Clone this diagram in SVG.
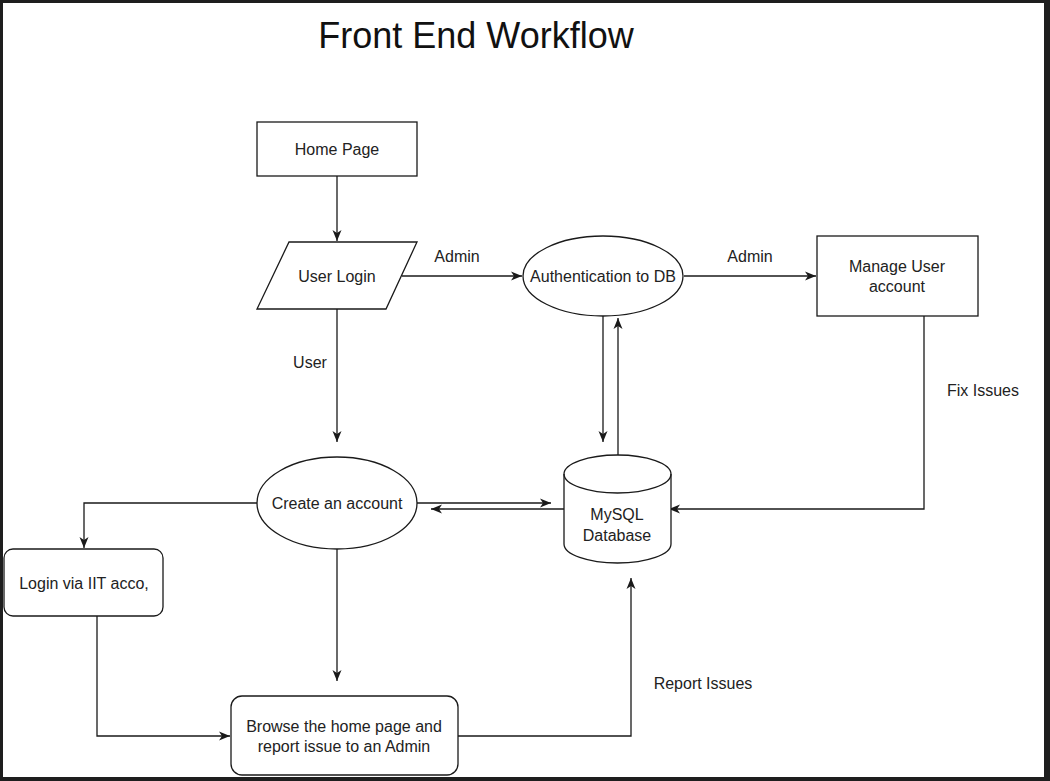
<svg xmlns="http://www.w3.org/2000/svg" width="1050" height="781" viewBox="0 0 1050 781">
<style>
  .shape { fill: #ffffff; stroke: #1a1a1a; stroke-width: 1.3; }
  .edge { fill: none; stroke: #1a1a1a; stroke-width: 1.3; }
  .lbl { font-family: "Liberation Sans", Arial, sans-serif; font-size: 16px; fill: #222222; text-anchor: middle; }
  .title { font-family: "Liberation Sans", Arial, sans-serif; font-size: 36px; fill: #111111; text-anchor: middle; }
</style>
<defs>
  <marker id="arr" markerUnits="userSpaceOnUse" markerWidth="12" markerHeight="10" refX="11" refY="5" orient="auto">
    <path d="M0,0.5 L11,5 L0,9.5 L3,5 Z" fill="#1a1a1a"/>
  </marker>
</defs>
<rect x="0" y="0" width="1050" height="781" fill="#1e1e1e"/>
<rect x="3" y="3" width="1041" height="774" fill="#ffffff"/>
<text class="title" x="476" y="48">Front End Workflow</text>

<g id="connectors">
  <path class="edge" d="M337,176 L337,241" marker-end="url(#arr)"/>
  <path class="edge" d="M402,276 L522,276" marker-end="url(#arr)"/>
  <text class="lbl" x="457" y="262">Admin</text>
  <path class="edge" d="M684,276 L816,276" marker-end="url(#arr)"/>
  <text class="lbl" x="750" y="262">Admin</text>
  <path class="edge" d="M337,309 L337,442" marker-end="url(#arr)"/>
  <text class="lbl" x="310" y="368">User</text>
  <path class="edge" d="M603,316 L603,442" marker-end="url(#arr)"/>
  <path class="edge" d="M618,456 L618,318" marker-end="url(#arr)"/>
  <path class="edge" d="M924,316 L924,509 L669,509" marker-end="url(#arr)"/>
  <text class="lbl" x="983" y="396">Fix Issues</text>
  <path class="edge" d="M417,503 L551,503" marker-end="url(#arr)"/>
  <path class="edge" d="M564,509 L431,509" marker-end="url(#arr)"/>
  <path class="edge" d="M257,503 L84,503 L84,548" marker-end="url(#arr)"/>
  <path class="edge" d="M97,616 L97,736 L230,736" marker-end="url(#arr)"/>
  <path class="edge" d="M337,549 L337,681" marker-end="url(#arr)"/>
  <path class="edge" d="M458,736 L631,736 L631,578" marker-end="url(#arr)"/>
  <text class="lbl" x="703" y="689">Report Issues</text>
</g>

<g id="home-page">
  <rect class="shape" x="257" y="122" width="160" height="54"/>
  <text class="lbl" x="337" y="155">Home Page</text>
</g>
<g id="user-login">
  <polygon class="shape" points="289,242 417,242 386,309 257,309"/>
  <text class="lbl" x="337" y="282">User Login</text>
</g>
<g id="authentication">
  <ellipse class="shape" cx="603" cy="276" rx="80" ry="40"/>
  <text class="lbl" x="603" y="282">Authentication to DB</text>
</g>
<g id="manage-user">
  <rect class="shape" x="817" y="236" width="161" height="80"/>
  <text class="lbl" x="897" y="272">Manage User</text>
  <text class="lbl" x="897" y="292">account</text>
</g>
<g id="create-account">
  <ellipse class="shape" cx="337" cy="503" rx="80" ry="46"/>
  <text class="lbl" x="337" y="509">Create an account</text>
</g>
<g id="mysql-database">
  <path class="shape" d="M564,474 A53.5,19 0 0 1 671,474 L671,544 A53.5,19 0 0 1 564,544 Z"/>
  <path class="edge" d="M564,474 A53.5,19 0 0 0 671,474"/>
  <text class="lbl" x="617" y="520">MySQL</text>
  <text class="lbl" x="617" y="541">Database</text>
</g>
<g id="login-iit">
  <rect class="shape" x="4" y="549" width="159" height="67" rx="9" ry="9"/>
  <text class="lbl" x="84" y="589">Login via IIT acco,</text>
</g>
<g id="browse">
  <rect class="shape" x="231" y="696" width="227" height="79" rx="11" ry="11"/>
  <text class="lbl" x="344" y="732">Browse the home page and</text>
  <text class="lbl" x="344" y="752">report issue to an Admin</text>
</g>
<rect x="0" y="777" width="1050" height="4" fill="#1e1e1e"/>
</svg>
